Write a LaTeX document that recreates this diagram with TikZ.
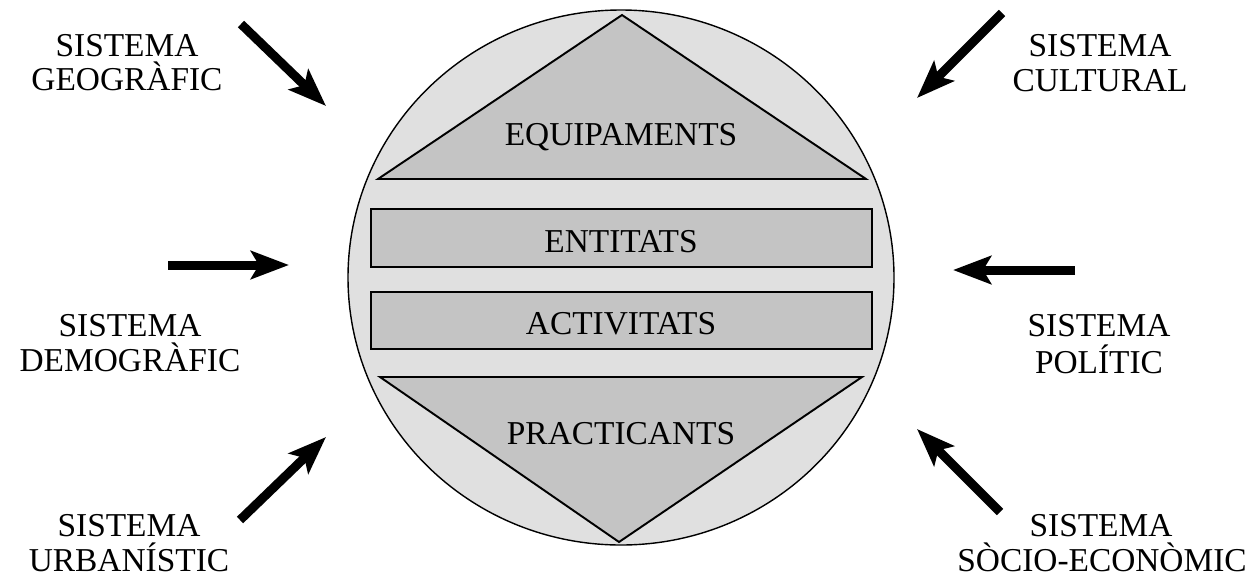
\documentclass[tikz,border=0pt]{standalone}
\usepackage{fontspec}
\setmainfont{Liberation Serif}
\usetikzlibrary{arrows.meta}
\begin{document}
\begin{tikzpicture}[x=0.02cm,y=-0.02cm,
  lbl/.style={anchor=base,inner sep=0pt,font=\fontsize{19}{22}\selectfont},
  innershape/.style={fill=black!23,draw=black,line width=1.1pt,line join=miter},
  bigarrow/.style={line width=0.18cm,-{Stealth[length=0.76cm,width=0.56cm,inset=0.16cm]}}
]
\useasboundingbox (0,0) rectangle (1256,582);
\fill[white] (0,0) rectangle (1256,582);
% circle
\draw[fill=black!12,line width=0.8pt] (621,277.5) ellipse [x radius=273, y radius=267.5];
% inner shapes
\draw[innershape] (622,15) -- (866,179) -- (378,179) -- cycle;
\draw[innershape] (371,209) rectangle (872,267);
\draw[innershape] (371,292) rectangle (872,349);
\draw[innershape] (380,377) -- (862,377) -- (619,542) -- cycle;
% inner labels
\node[lbl] (equip) at (621,145) {EQUIPAMENTS};
\node[lbl] (entit) at (621,252) {ENTITATS};
\node[lbl] (activ) at (621,334) {ACTIVITATS};
\node[lbl] (pract) at (621,444) {PRACTICANTS};
% outer labels
\node[lbl] (geo1) at (127,56) {SISTEMA};
\node[lbl] (geo2) at (127,90) {GEOGRÀFIC};
\node[lbl] (dem1) at (130,336) {SISTEMA};
\node[lbl] (dem2) at (130,371) {DEMOGRÀFIC};
\node[lbl] (urb1) at (129,536) {SISTEMA};
\node[lbl] (urb2) at (129,571) {URBANÍSTIC};
\node[lbl] (cul1) at (1100,56) {SISTEMA};
\node[lbl] (cul2) at (1100,91) {CULTURAL};
\node[lbl] (pol1) at (1099,336) {SISTEMA};
\node[lbl] (pol2) at (1099,373) {POLÍTIC};
\node[lbl] (soc1) at (1101,536) {SISTEMA};
\node[lbl] (soc2) at (1102,571) {SÒCIO-ECONÒMIC};
% arrow ends
\coordinate (geoT) at (241,24);   \coordinate (geoH) at (326,106);
\coordinate (demT) at (168,265);  \coordinate (demH) at (289,265);
\coordinate (urbT) at (240,520);  \coordinate (urbH) at (326,437);
\coordinate (culT) at (1002,13);  \coordinate (culH) at (917,98);
\coordinate (polT) at (1075,270); \coordinate (polH) at (953,270);
\coordinate (socT) at (1000,512); \coordinate (socH) at (917,429);
\draw[bigarrow] (geoT) -- (geoH);
\draw[bigarrow] (demT) -- (demH);
\draw[bigarrow] (urbT) -- (urbH);
\draw[bigarrow] (culT) -- (culH);
\draw[bigarrow] (polT) -- (polH);
\draw[bigarrow] (socT) -- (socH);
\end{tikzpicture}
\end{document}
